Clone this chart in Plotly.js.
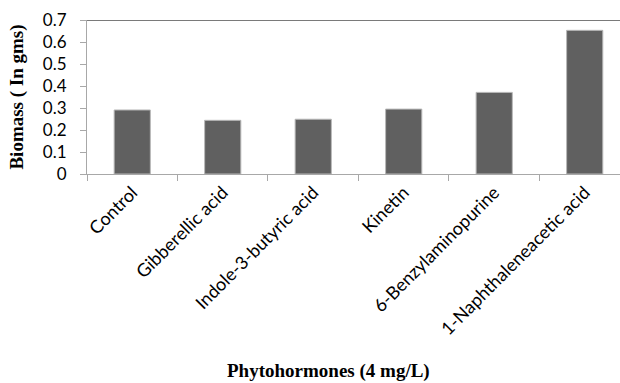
<!DOCTYPE html>
<html>
<head>
<meta charset="utf-8">
<script src="https://cdn.plot.ly/plotly-3.0.1.min.js"></script>
<style>html,body{margin:0;padding:0;overflow:hidden;background:#fff}</style>
</head>
<body>
<div id="chart" style="width:620px;height:383px"></div>
<script>
var categories = ["Control", "Gibberellic acid", "Indole-3-butyric acid", "Kinetin", "6-Benzylaminopurine", "1-Naphthaleneacetic acid"];
var biomass = [0.291, 0.244, 0.249, 0.295, 0.371, 0.653];
var yTicks = [0, 0.1, 0.2, 0.3, 0.4, 0.5, 0.6, 0.7];
var yTitle = "Biomass ( In gms)";
var xTitle = "Phytohormones (4 mg/L)";

var trace = {
  type: "bar",
  x: categories,
  y: biomass,
  width: 0.4,
  marker: {color: "#606060", line: {color: "#b8b8b8", width: 1}},
  hoverinfo: "none"
};

var layout = {
  width: 620,
  height: 383,
  margin: {l: 87, r: 0, t: 20, b: 209, pad: 0},
  paper_bgcolor: "#fff",
  plot_bgcolor: "#fff",
  showlegend: false,
  xaxis: {
    type: "category",
    range: [-0.5, 5.39],
    showline: true,
    linecolor: "#a8a8a8",
    linewidth: 1,
    ticks: "outside",
    tickson: "boundaries",
    ticklen: 6,
    tickcolor: "#a8a8a8",
    tickangle: -45,
    tickfont: {family: "Lato, 'Open Sans', sans-serif", size: 18, color: "#000"},
    showgrid: false,
    zeroline: false,
    fixedrange: true
  },
  yaxis: {
    range: [0, 0.7],
    tickvals: yTicks,
    ticktext: yTicks.map(function(v){return String(v);}),
    showline: true,
    linecolor: "#a8a8a8",
    linewidth: 1,
    ticks: "outside",
    ticklen: 6,
    tickcolor: "#a8a8a8",
    ticklabelstandoff: 10,
    tickfont: {family: "Lato, 'Open Sans', sans-serif", size: 17, color: "#000"},
    showgrid: false,
    zeroline: false,
    title: {text: yTitle, font: {family: "'Liberation Serif', 'DejaVu Serif', serif", size: 19, color: "#000", weight: "bold"}, standoff: 14},
    fixedrange: true
  },
  shapes: [{
    type: "line", xref: "paper", yref: "y", x0: 0, x1: 1, y0: 0.7, y1: 0.7,
    line: {color: "#7a7a7a", width: 2}
  }],
  annotations: [{
    text: "<b>" + xTitle + "</b>",
    xref: "paper", yref: "paper", x: 0.4527, y: -1.28,
    xanchor: "center", yanchor: "middle", showarrow: false,
    font: {family: "'Liberation Serif', 'DejaVu Serif', serif", size: 19, color: "#000"}
  }]
};

Plotly.newPlot("chart", [trace], layout, {staticPlot: true, displayModeBar: false});
</script>
</body>
</html>
